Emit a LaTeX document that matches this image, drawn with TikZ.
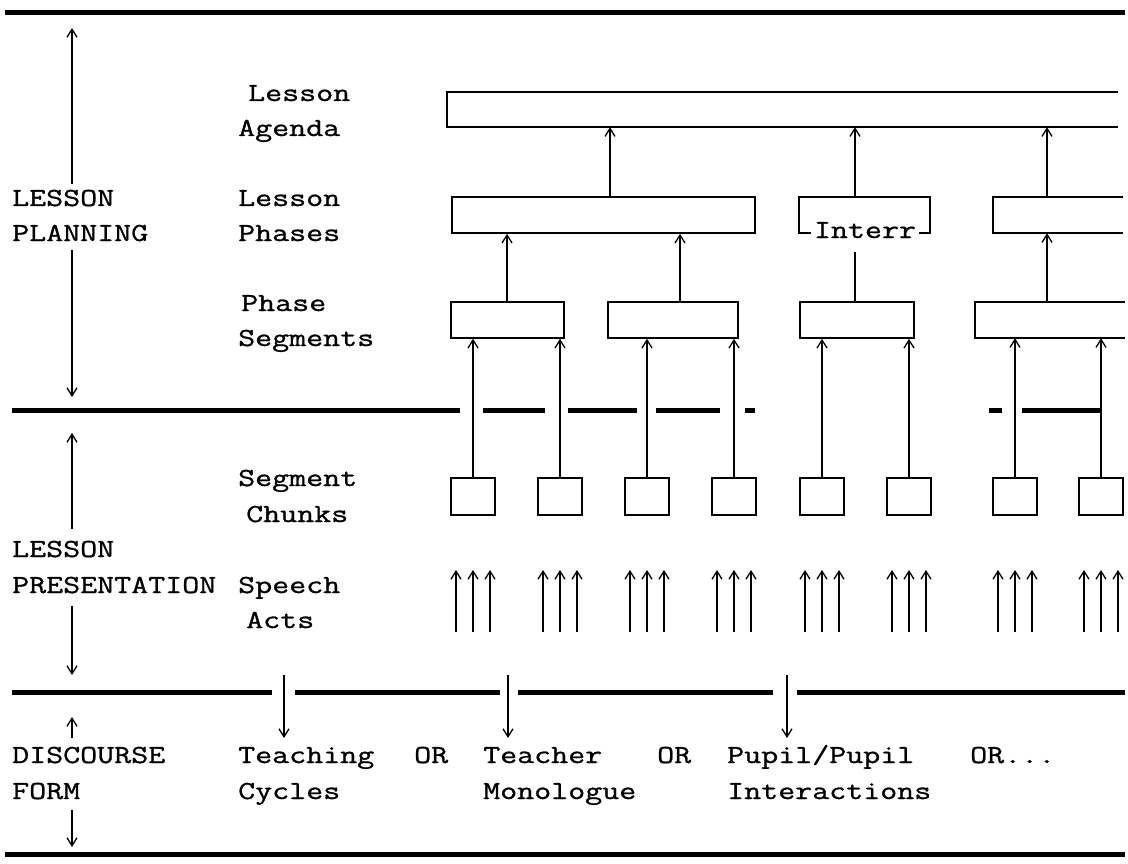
\documentclass[tikz,border=0pt]{standalone}
\usepackage{fontspec}
\newfontfamily\tw[FakeStretch=1.27,FakeBold=1.0]{Latin Modern Mono}
\usetikzlibrary{arrows.meta,calc}
\begin{document}
\begin{tikzpicture}[x=1pt,y=-1pt,
  >={Straight Barb[length=8pt,width=10pt]},
  lbl/.style={font=\tw\fontsize{26}{32}\selectfont, anchor=base west, inner sep=0pt},
  rule/.style={line width=5pt},
  bx/.style={draw, line width=1.6pt, inner sep=0pt},
  obx/.style={inner sep=0pt},
  con/.style={line width=1.3pt, ->},
  plain/.style={line width=1.3pt}]
\useasboundingbox (0,0) rectangle (1128,864);

% ---------- thick rules ----------
\draw[rule] (5,13) -- (1125,13);
\draw[rule] (12,410) -- (460,410);
\draw[rule] (483,410) -- (545,410);
\draw[rule] (568,410) -- (637,410);
\draw[rule] (656,410) -- (720,410);
\draw[rule] (745,410) -- (755,410);
\draw[rule] (989,410) -- (1002,410);
\draw[rule] (1022,410) -- (1100,410);
\draw[rule] (12,692) -- (272,692);
\draw[rule] (295,692) -- (500,692);
\draw[rule] (518,692) -- (773,692);
\draw[rule] (797,692) -- (1125,692);
\draw[rule] (5,854) -- (1125,854);

% ---------- left column ----------
\node[lbl] (t1) at (12,206) {LESSON};
\node[lbl] (t2) at (12,241) {PLANNING};
\node[lbl] (t3) at (12,557) {LESSON};
\node[lbl] (t4) at (12,593) {PRESENTATION};
\node[lbl] (t5) at (12,763) {DISCOURSE};
\node[lbl] (t6) at (12,799) {FORM};

\coordinate (la1) at (72,28);  \coordinate (la2) at (72,397);
\coordinate (lb1) at (72,433); \coordinate (lc2) at (72,675);
\coordinate (ld1) at (72,717); \coordinate (ld2) at (72,738);
\coordinate (le2) at (72,847);
\draw[con] (t1.north -| la1) ++(0,-6) -- (la1);
\draw[con] (t2.south -| la2) ++(0,8) -- (la2);
\draw[con] (t3.north -| lb1) ++(0,-12) -- (lb1);
\draw[con] (t4.south -| lc2) ++(0,12) -- (lc2);
\draw[con] (ld2) -- (ld1);
\draw[con] (t6.south -| le2) ++(0,10) -- (le2);

% ---------- level labels ----------
\node[lbl] (l1) at (248,101) {Lesson};
\node[lbl] (l2) at (238,136) {Agenda};
\node[lbl] (l3) at (238,206) {Lesson};
\node[lbl] (l4) at (238,241) {Phases};
\node[lbl] (l5) at (241,311) {Phase};
\node[lbl] (l6) at (238,346) {Segments};
\node[lbl] (l7) at (238,486) {Segment};
\node[lbl] (l8) at (246,522) {Chunks};
\node[lbl] (l9) at (238,593) {Speech};
\node[lbl] (l10) at (246,628) {Acts};

% ---------- boxes ----------
\node[obx, minimum width=671pt, minimum height=35pt] (ag) at (782.5,109.5) {};
\draw[line width=1.6pt] (ag.north east) -- (ag.north west) -- (ag.south west) -- (ag.south east);

\node[bx, minimum width=303pt, minimum height=36pt] (ph1) at (603.5,215) {};
\node[bx, minimum width=131pt, minimum height=36pt] (ph2) at (864.5,215) {};
\node[obx, minimum width=130pt, minimum height=36pt] (ph3) at (1058,215) {};
\draw[line width=1.6pt] (ph3.north east) -- (ph3.north west) -- (ph3.south west) -- (ph3.south east);
\node[lbl, fill=white, inner xsep=3pt, inner ysep=2pt, anchor=base] (intr) at (865,238) {Interr};

\node[bx, minimum width=113pt, minimum height=36pt] (sg1) at (507.5,320) {};
\node[bx, minimum width=130pt, minimum height=36pt] (sg2) at (673,320) {};
\node[bx, minimum width=114pt, minimum height=36pt] (sg3) at (857,320) {};
\node[obx, minimum width=150pt, minimum height=36pt] (sg4) at (1050,320) {};
\draw[line width=1.6pt] (sg4.north east) -- (sg4.north west) -- (sg4.south west) -- (sg4.south east);

\foreach \c [count=\i] in {473,560,647,734,822,909,1015,1101}
  \node[bx, minimum width=44pt, minimum height=37pt] (ch\i) at (\c,496.5) {};

% ---------- connectors ----------
\coordinate (xa) at (610,0);
\coordinate (xb) at (855,0);
\coordinate (xc) at (1047,0);
\coordinate (xd) at (507,0);
\coordinate (xe) at (680,0);
\draw[con] (ph1.north -| xa) -- (ag.south -| xa);
\draw[con] (ph2.north -| xb) -- (ag.south -| xb);
\draw[con] (ph3.north -| xc) -- (ag.south -| xc);
\draw[con] (sg1.north -| xd) -- (ph1.south -| xd);
\draw[con] (sg2.north -| xe) -- (ph1.south -| xe);
\coordinate (ie) at (855,252);
\draw[plain] (sg3.north -| ie) -- (ie);
\draw[con] (sg4.north -| xc) -- (ph3.south -| xc);

\draw[con] (ch1.north) -- (ch1.north |- sg1.south);
\draw[con] (ch2.north) -- (ch2.north |- sg1.south);
\draw[con] (ch3.north) -- (ch3.north |- sg2.south);
\draw[con] (ch4.north) -- (ch4.north |- sg2.south);
\draw[con] (ch5.north) -- (ch5.north |- sg3.south);
\draw[con] (ch6.north) -- (ch6.north |- sg3.south);
\draw[con] (ch7.north) -- (ch7.north |- sg4.south);
\draw[con] (ch8.north) -- (ch8.north |- sg4.south);

% speech acts
\coordinate (ysb) at (0,632);
\coordinate (yst) at (0,570);
\foreach \i in {1,...,8}
  \foreach \d in {-17,0,17}
    \draw[con] ($(ch\i.south |- ysb)+(\d,0)$) -- ($(ch\i.south |- yst)+(\d,0)$);

% ---------- discourse forms ----------
\node[lbl] (d1) at (238,763) {Teaching};
\node[lbl] (d2) at (238,799) {Cycles};
\node[lbl] (o1) at (414,763) {OR};
\node[lbl] (d3) at (483,763) {Teacher};
\node[lbl] (d4) at (483,799) {Monologue};
\node[lbl] (o2) at (657,763) {OR};
\node[lbl] (d5) at (727,763) {Pupil/Pupil};
\node[lbl] (d6) at (727,799) {Interactions};
\node[lbl] (o3) at (970,763) {OR...};

\coordinate (ba1) at (284,675); \coordinate (ba2) at (284,738);
\coordinate (bb1) at (508,675); \coordinate (bb2) at (508,738);
\coordinate (bc1) at (787,675); \coordinate (bc2) at (787,738);
\draw[con] (ba1) -- (ba2);
\draw[con] (bb1) -- (bb2);
\draw[con] (bc1) -- (bc2);
\end{tikzpicture}
\end{document}
